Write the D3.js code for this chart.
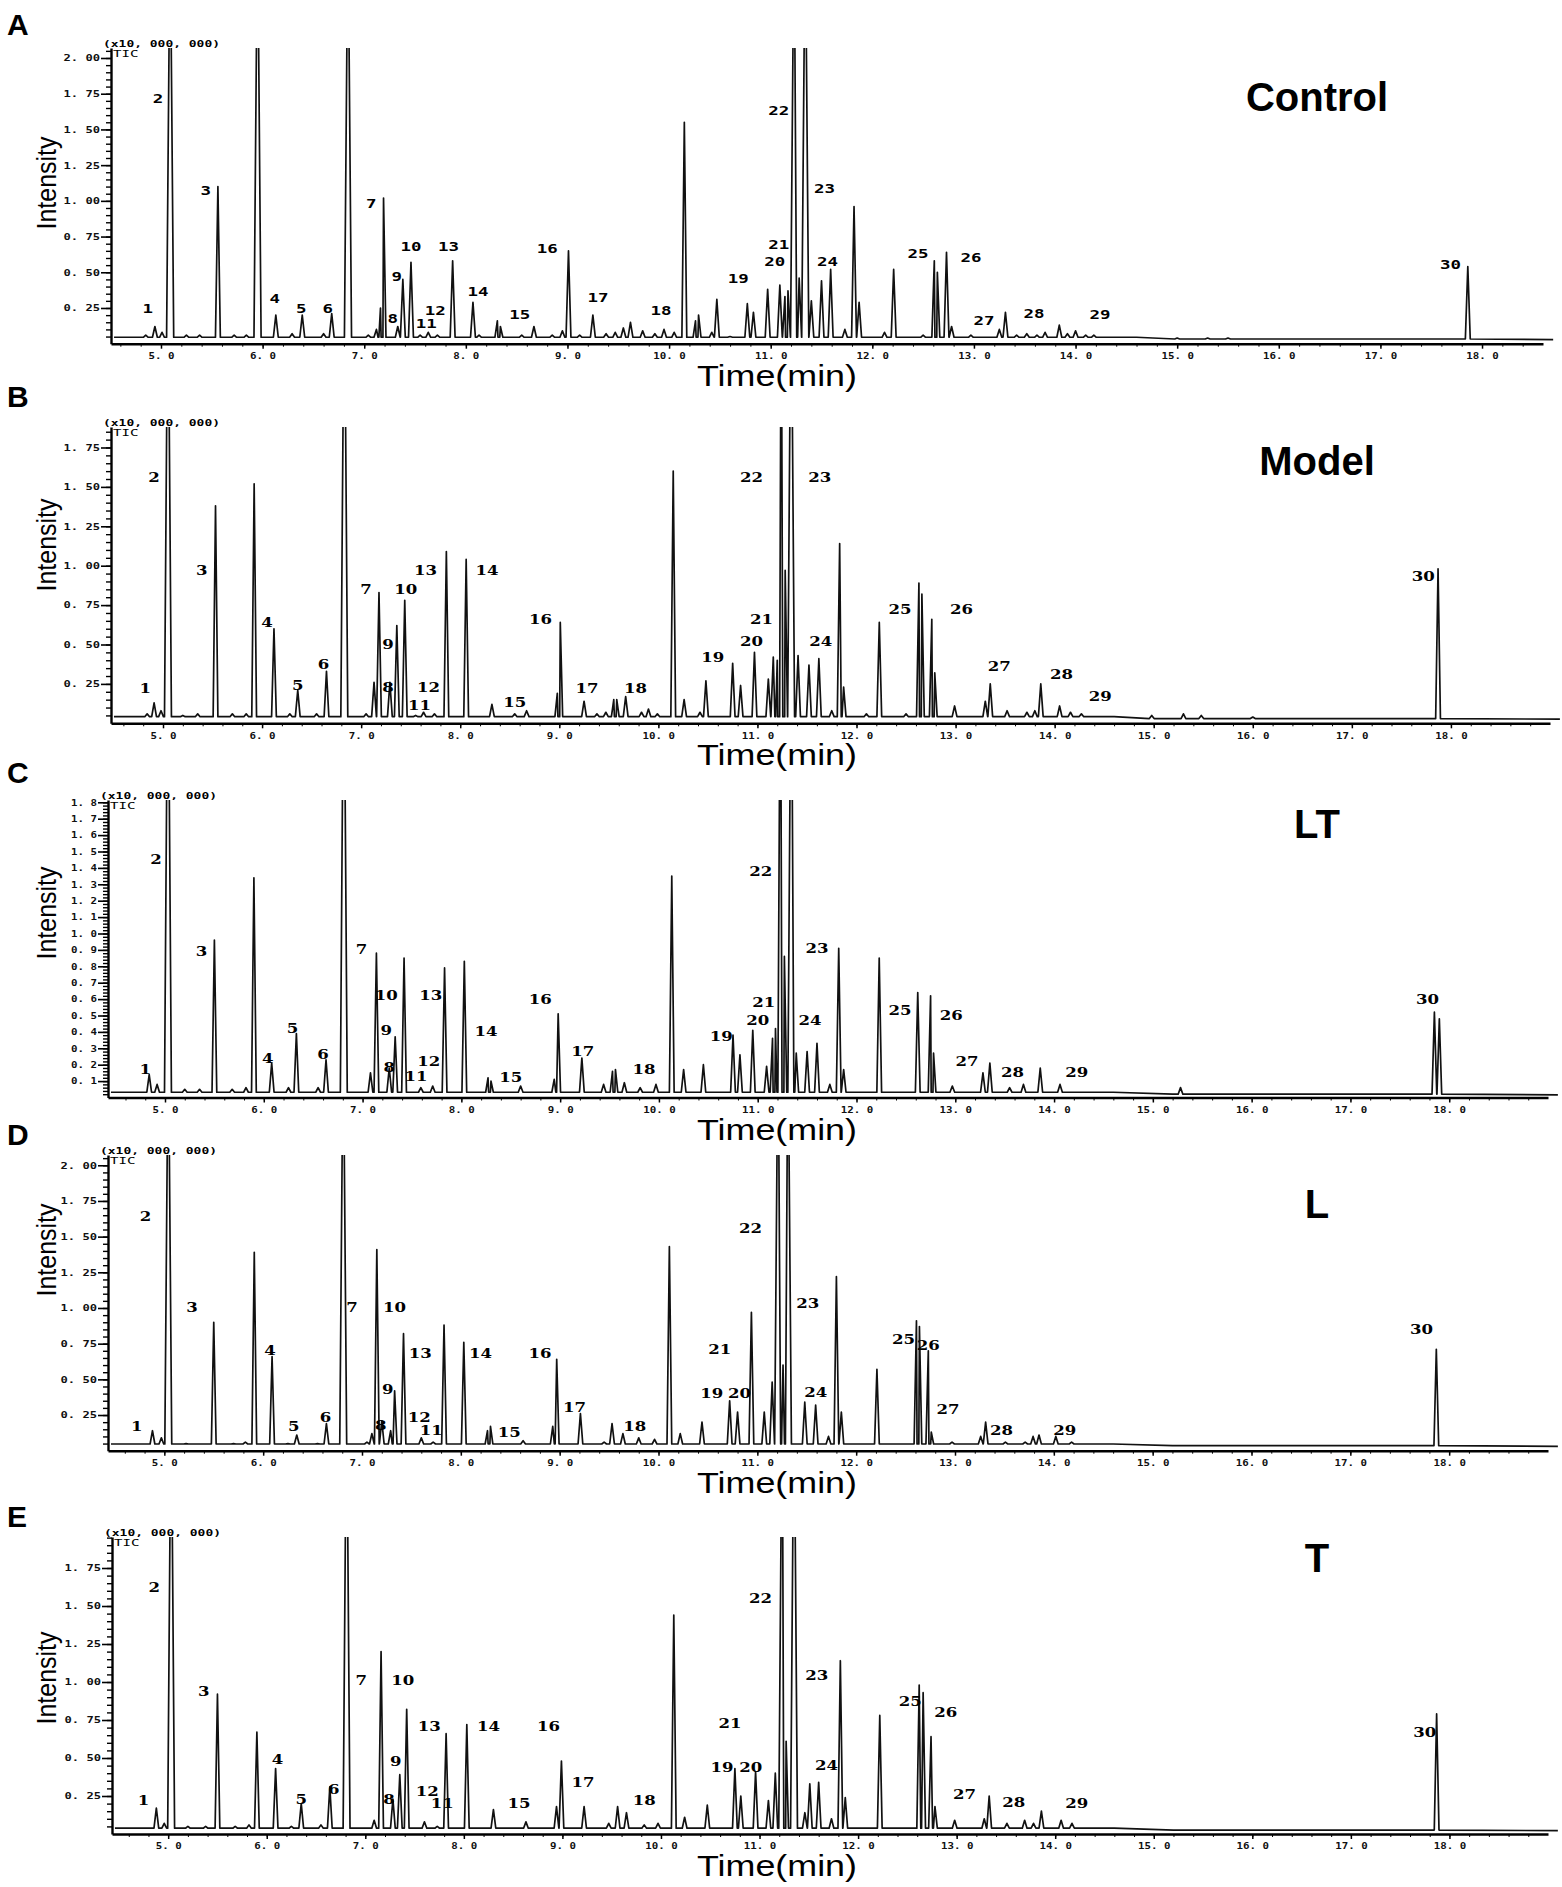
<!DOCTYPE html>
<html>
<head>
<meta charset="utf-8">
<script src="https://cdn.jsdelivr.net/npm/d3@7"></script>
<style>
  body { margin: 0; background: #fff; }
</style>
</head>
<body>
<div id="chart"></div>
<script>
// ---- data (time in min, intensity in x10,000,000) ----
// peaks above ~2.1 run off the top of the axis; they are stored as 3.0
const peakNumbers = [1,2,3,4,5,6,7,8,9,10,11,12,13,14,15,16,17,18,19,20,21,22,23,24,25,26,27,28,29,30];
const xTickValues = [5,6,7,8,9,10,11,12,13,14,15,16,17,18];
const yTicksQuarter = [0.25,0.5,0.75,1.0,1.25,1.5,1.75,2.0];
const yTicksTenth = [0.1,0.2,0.3,0.4,0.5,0.6,0.7,0.8,0.9,1.0,1.1,1.2,1.3,1.4,1.5,1.6,1.7,1.8];
const panelTitles = ["Control","Model","LT","L","T"];
const panelLetters = ["A","B","C","D","E"];

// A - Control
const controlTime = [4.85,4.94,5.01,5.09,5.25,5.38,5.56,5.72,5.84,5.95,6.13,6.29,6.39,6.60,6.68,6.84,7.04,7.12,7.16,7.19,
  7.33,7.38,7.46,7.55,7.63,7.72,7.87,8.07,8.13,8.31,8.34,8.55,8.67,8.85,8.95,9.01,9.12,9.25,9.38,9.47,9.55,9.62,9.74,9.86,
  9.95,10.05,10.15,10.26,10.29,10.42,10.47,10.60,10.77,10.83,10.97,11.09,11.14,11.17,11.23,11.28,11.34,11.40,11.50,11.59,
  11.73,11.82,11.87,12.12,12.21,12.50,12.61,12.64,12.73,12.78,12.97,13.25,13.31,13.42,13.52,13.62,13.70,13.84,13.92,14.00,
  14.10,14.18,15.00,15.30,15.50,17.86];
const controlHeight = [0.06,0.12,0.08,3.0,0.06,0.06,1.10,0.06,0.06,3.0,0.20,0.07,0.20,0.07,0.21,3.0,0.06,0.10,0.25,1.02,
  0.12,0.45,0.57,0.06,0.08,0.06,0.58,0.29,0.06,0.16,0.12,0.06,0.12,0.06,0.09,0.65,0.06,0.20,0.07,0.08,0.11,0.15,0.09,0.07,
  0.10,0.08,1.55,0.16,0.20,0.08,0.31,0.05,0.28,0.22,0.38,0.41,0.33,0.37,3.0,0.46,3.0,0.30,0.44,0.52,
  0.10,0.96,0.29,0.08,0.52,0.06,0.58,0.50,0.64,0.12,0.06,0.10,0.22,0.06,0.07,0.06,0.08,0.13,0.07,0.09,
  0.06,0.06,0.04,0.04,0.04,0.54];
const controlLabelTime = [4.87,4.97,5.44,6.12,6.38,6.64,7.07,7.28,7.32,7.46,7.61,7.70,7.83,8.12,8.53,8.80,9.30,9.92,10.68,11.04,
  11.08,11.08,11.53,11.56,12.45,12.97,13.10,13.59,14.24,17.69];
const controlLabelValue = [0.24,1.71,1.07,0.31,0.24,0.24,0.98,0.17,0.47,0.68,0.14,0.23,0.68,0.36,0.20,0.66,0.32,0.23,0.45,0.57,
  0.69,1.63,1.08,0.57,0.63,0.60,0.16,0.21,0.20,0.55];

// B - Model
const modelTime = [4.84,4.91,4.98,5.05,5.20,5.35,5.53,5.70,5.84,5.92,6.12,6.28,6.36,6.55,6.65,6.83,7.05,7.13,7.18,7.29,
  7.36,7.44,7.55,7.63,7.74,7.86,8.06,8.32,8.55,8.67,8.98,9.01,9.25,9.38,9.47,9.55,9.58,9.67,9.83,9.90,9.99,10.15,10.26,
  10.42,10.48,10.75,10.83,10.97,11.11,11.16,11.20,11.24,11.28,11.34,11.41,11.52,11.62,11.75,11.83,11.87,12.10,12.23,12.50,
  12.63,12.66,12.76,12.79,12.99,13.30,13.35,13.52,13.72,13.80,13.86,14.05,14.16,14.27,14.98,15.30,15.48,16.00,17.87];
const modelHeight = [0.06,0.13,0.08,3.0,0.05,0.06,1.38,0.06,0.06,1.52,0.60,0.06,0.21,0.06,0.33,3.0,0.06,0.26,0.83,0.26,
  0.62,0.78,0.05,0.07,0.06,1.09,1.04,0.12,0.06,0.08,0.19,0.64,0.14,0.06,0.07,0.15,0.15,0.17,0.07,0.09,0.06,1.60,0.15,
  0.07,0.27,0.38,0.24,0.45,0.28,0.42,0.40,3.0,0.97,3.0,0.43,0.37,0.41,0.08,1.14,0.23,0.06,0.64,0.06,
  0.89,0.82,0.66,0.32,0.11,0.14,0.25,0.08,0.07,0.08,0.25,0.11,0.07,0.06,0.05,0.06,0.05,0.04,0.98];
const modelLabelTime = [4.82,4.91,5.39,6.05,6.36,6.62,7.05,7.27,7.27,7.45,7.59,7.68,7.65,8.27,8.55,8.81,9.28,9.77,10.55,10.94,
  11.04,10.94,11.63,11.64,12.44,13.06,13.44,14.07,14.46,17.72];
const modelLabelValue = [0.22,1.56,0.97,0.64,0.24,0.37,0.85,0.23,0.50,0.85,0.11,0.23,0.97,0.97,0.13,0.66,0.22,0.22,0.42,0.52,
  0.66,1.56,1.56,0.52,0.72,0.72,0.36,0.31,0.17,0.93];

// C - LT
const ltTime = [4.84,4.92,5.03,5.20,5.35,5.50,5.68,5.82,5.90,6.08,6.25,6.33,6.55,6.63,6.81,7.08,7.14,7.27,7.33,7.42,
  7.59,7.71,7.83,8.03,8.27,8.30,8.60,8.94,8.98,9.22,9.44,9.53,9.56,9.65,9.81,9.97,10.13,10.25,10.45,10.75,10.82,10.95,
  11.09,11.15,11.18,11.23,11.27,11.34,11.39,11.50,11.60,11.73,11.82,11.87,12.23,12.62,12.75,12.78,12.97,13.28,13.35,13.55,
  13.69,13.86,14.06,15.28,17.85,17.90];
const ltHeight = [0.14,0.08,3.0,0.05,0.05,0.96,0.05,0.06,1.34,0.21,0.06,0.39,0.06,0.23,3.0,0.15,0.88,0.18,0.37,0.85,
  0.06,0.07,0.79,0.83,0.12,0.10,0.07,0.11,0.51,0.24,0.08,0.16,0.17,0.09,0.06,0.08,1.35,0.17,0.20,0.38,0.26,0.41,
  0.19,0.36,0.42,3.0,0.86,3.0,0.27,0.28,0.33,0.08,0.91,0.17,0.85,0.64,0.62,0.27,0.07,0.15,0.21,0.06,
  0.08,0.18,0.08,0.06,0.52,0.48];
const ltLabelTime = [4.80,4.91,5.37,6.04,6.29,6.60,6.99,7.27,7.24,7.24,7.54,7.67,7.69,8.25,8.50,8.80,9.23,9.85,10.63,11.00,
  11.06,11.03,11.60,11.53,12.44,12.96,13.12,13.58,14.23,17.78];
const ltLabelValue = [0.17,1.45,0.89,0.24,0.42,0.26,0.90,0.18,0.41,0.62,0.13,0.22,0.62,0.40,0.12,0.60,0.28,0.17,0.37,0.47,
  0.58,1.38,0.91,0.47,0.53,0.50,0.22,0.15,0.15,0.60];

// D - L
const lTime = [4.88,4.97,5.04,5.22,5.50,5.70,5.82,5.91,6.09,6.25,6.34,6.55,6.64,6.81,7.05,7.10,7.15,7.20,7.29,7.33,
  7.42,7.60,7.72,7.83,8.03,8.27,8.30,8.63,8.93,8.97,9.21,9.45,9.53,9.64,9.80,9.96,10.11,10.22,10.44,10.72,10.80,10.94,
  11.07,11.15,11.21,11.26,11.31,11.48,11.59,11.72,11.80,11.85,12.21,12.61,12.64,12.73,12.76,12.97,13.26,13.31,13.51,13.71,
  13.79,13.85,14.02,14.18,17.87];
const lHeight = [0.14,0.09,3.0,0.05,0.90,0.05,0.06,1.39,0.66,0.05,0.11,0.05,0.19,3.0,0.06,0.12,1.41,0.21,0.14,0.42,
  0.82,0.09,0.06,0.88,0.76,0.14,0.17,0.07,0.17,0.64,0.26,0.06,0.19,0.12,0.09,0.08,1.43,0.12,0.20,0.35,0.27,0.97,
  0.27,0.48,3.0,0.60,3.0,0.34,0.32,0.10,1.22,0.27,0.57,0.91,0.87,0.70,0.13,0.06,0.10,0.20,0.06,0.06,
  0.10,0.11,0.10,0.06,0.71];
const lLabelTime = [4.72,4.81,5.28,6.07,6.31,6.63,6.90,7.19,7.26,7.33,7.70,7.58,7.59,8.20,8.49,8.80,9.15,9.76,10.54,10.82,
  10.62,10.93,11.51,11.59,12.48,12.73,12.93,13.47,14.11,17.72];
const lLabelValue = [0.17,1.64,1.00,0.70,0.17,0.23,1.00,0.18,0.43,1.00,0.14,0.23,0.68,0.68,0.13,0.68,0.30,0.17,0.40,0.40,
  0.71,1.56,1.03,0.41,0.78,0.74,0.29,0.14,0.14,0.85];

// E - T
const tTime = [4.88,4.96,5.03,5.20,5.38,5.50,5.68,5.82,5.90,6.09,6.25,6.35,6.55,6.64,6.81,7.09,7.16,7.28,7.35,7.42,
  7.60,7.73,7.82,8.03,8.30,8.63,8.94,8.99,9.22,9.47,9.56,9.65,9.83,9.97,10.13,10.24,10.47,10.75,10.81,10.96,11.09,11.16,
  11.23,11.27,11.35,11.46,11.51,11.60,11.73,11.82,11.87,12.22,12.62,12.66,12.74,12.78,12.98,13.28,13.33,13.51,13.69,13.78,
  13.86,14.06,14.17,17.87];
const tHeight = [0.17,0.07,3.0,0.05,0.05,0.92,0.05,0.06,0.67,0.43,0.05,0.20,0.06,0.31,3.0,0.09,1.20,0.23,0.39,0.82,
  0.08,0.05,0.66,0.72,0.16,0.08,0.18,0.48,0.18,0.07,0.18,0.14,0.06,0.07,1.44,0.11,0.19,0.43,0.25,0.41,0.22,0.40,
  3.0,0.61,3.0,0.14,0.33,0.34,0.10,1.14,0.24,0.78,0.98,0.93,0.64,0.18,0.09,0.10,0.25,0.07,0.09,0.07,
  0.15,0.09,0.07,0.79];
const tLabelTime = [4.75,4.86,5.36,6.11,6.35,6.68,6.96,7.24,7.31,7.38,7.78,7.63,7.65,8.25,8.56,8.86,9.21,9.83,10.62,10.91,
  10.70,11.01,11.58,11.68,12.53,12.89,13.08,13.58,14.22,17.75];
const tLabelValue = [0.22,1.62,0.94,0.49,0.23,0.29,1.01,0.23,0.48,1.01,0.20,0.28,0.71,0.71,0.20,0.71,0.34,0.22,0.44,0.44,
  0.73,1.55,1.04,0.45,0.87,0.80,0.26,0.21,0.20,0.67];

// ---- layout of the five stacked panels (pixels) ----
const layout = [
  { time: controlTime, height: controlHeight, lt: controlLabelTime, lv: controlLabelValue,
    xDom: [4.508, 18.6], xPx: [111, 1543], yDom: [0, 2.07], yPx: [343.7, 48], yTicks: yTicksQuarter, yMinor: 0.05,
    base: 0.045, letterY: 35, titleY: 111, intensityY: 183, numFont: "mono" },
  { time: modelTime, height: modelHeight, lt: modelLabelTime, lv: modelLabelValue,
    xDom: [4.475, 19.0], xPx: [111, 1550], yDom: [0, 1.88], yPx: [723.3, 427], yTicks: yTicksQuarter, yMinor: 0.05,
    base: 0.042, letterY: 407, titleY: 475, intensityY: 545, numFont: "serif" },
  { time: ltTime, height: ltHeight, lt: ltLabelTime, lv: ltLabelValue,
    xDom: [4.423, 19.0], xPx: [108, 1548], yDom: [0, 1.814], yPx: [1097.5, 800], yTicks: yTicksTenth, yMinor: 0.02,
    base: 0.032, letterY: 783, titleY: 838, intensityY: 913, numFont: "serif" },
  { time: lTime, height: lHeight, lt: lLabelTime, lv: lLabelValue,
    xDom: [4.43, 19.0], xPx: [108, 1548], yDom: [0, 2.072], yPx: [1450.7, 1155], yTicks: yTicksQuarter, yMinor: 0.05,
    base: 0.047, letterY: 1145, titleY: 1218, intensityY: 1250, numFont: "serif" },
  { time: tTime, height: tHeight, lt: tLabelTime, lv: tLabelValue,
    xDom: [4.43, 19.0], xPx: [112, 1548], yDom: [0, 1.954], yPx: [1834, 1537], yTicks: yTicksQuarter, yMinor: 0.05,
    base: 0.038, letterY: 1527, titleY: 1572, intensityY: 1678, numFont: "serif" }
];

const W = 1562, H = 1887;
const svg = d3.select("#chart").append("svg")
    .attr("width", W).attr("height", H)
    .attr("viewBox", [0, 0, W, H])
    .style("font-family", "'Liberation Sans', Arial, sans-serif");

const monoFont = "'DejaVu Sans Mono', 'Liberation Mono', monospace";
const narrowFont = "'Liberation Sans Narrow', 'Arial Narrow', 'Liberation Sans', Arial, sans-serif";

function squash(sel, perChar) {
  sel.each(function () {
    const t = d3.select(this);
    const s = t.text();
    t.attr("textLength", s.length * perChar).attr("lengthAdjust", "spacingAndGlyphs");
  });
}

layout.forEach((p, i) => {
  const x = d3.scaleLinear().domain(p.xDom).range(p.xPx);
  const y = d3.scaleLinear().domain(p.yDom).range(p.yPx);
  const g = svg.append("g");

  // trace: each peak drawn as foot - apex - foot, plus a few baseline anchors
  const pts = [];
  p.time.forEach((t, k) => {
    const h = p.height[k];
    const hw = h > 2.5 ? 0.035 : 0.024;
    const b = t > 14.6 ? p.base - 0.012 : p.base;
    pts.push([t - hw, b], [t, h], [t + hw, b]);
  });
  pts.push([p.xDom[0] + 0.03, p.base], [14.6, p.base], [15.2, p.base - 0.012], [p.xDom[1] + 0.1, p.base - 0.016]);
  pts.sort((a, b) => a[0] - b[0]);

  const clipId = "clip" + i;
  svg.append("clipPath").attr("id", clipId).append("rect")
      .attr("x", p.xPx[0]).attr("y", p.yPx[1])
      .attr("width", W - p.xPx[0]).attr("height", p.yPx[0] - p.yPx[1]);

  g.append("path")
      .datum(pts)
      .attr("clip-path", `url(#${clipId})`)
      .attr("fill", "none")
      .attr("stroke", "#111")
      .attr("stroke-width", 1.7)
      .attr("stroke-linejoin", "round")
      .attr("d", d3.line().x(d => x(d[0])).y(d => y(d[1])));

  // x axis
  const xMinor = d3.range(Math.ceil(p.xDom[0] * 5) / 5, p.xDom[1], 0.2);
  g.append("g").attr("transform", `translate(0,${p.yPx[0]})`)
      .call(d3.axisBottom(x).tickValues(xMinor).tickSize(3).tickSizeOuter(0).tickFormat(""))
      .call(a => a.select(".domain").attr("stroke-width", 2.6));
  const xa = g.append("g").attr("transform", `translate(0,${p.yPx[0]})`)
      .call(d3.axisBottom(x).tickValues(xTickValues).tickSize(5).tickSizeOuter(0).tickPadding(4)
        .tickFormat(d => d.toFixed(1).replace(".", ". ")));
  xa.select(".domain").remove();
  xa.selectAll("line").attr("stroke-width", 1.5);
  xa.selectAll("text").attr("font-family", monoFont).attr("font-weight", "bold")
      .attr("font-size", 9).attr("fill", "#111").call(squash, 6.5);

  // y axis
  const yMinor = d3.range(p.yMinor, p.yDom[1], p.yMinor);
  g.append("g").attr("transform", `translate(${p.xPx[0]},0)`)
      .call(d3.axisLeft(y).tickValues(yMinor).tickSize(5).tickSizeOuter(0).tickFormat(""))
      .call(a => a.select(".domain").attr("stroke-width", 2.4))
      .call(a => a.selectAll("line").attr("stroke-width", 1.4));
  const digits = p.yMinor < 0.03 ? 1 : 2;
  const ya = g.append("g").attr("transform", `translate(${p.xPx[0]},0)`)
      .call(d3.axisLeft(y).tickValues(p.yTicks.filter(v => v <= p.yDom[1])).tickSize(10).tickSizeOuter(0).tickPadding(1)
        .tickFormat(d => d.toFixed(digits).replace(".", ". ")));
  ya.select(".domain").remove();
  ya.selectAll("line").attr("stroke-width", 1.6);
  ya.selectAll("text").attr("font-family", monoFont).attr("font-weight", "bold")
      .attr("font-size", 9).attr("fill", "#111").call(squash, digits === 1 ? 6.5 : 7.3);

  // scale factor and trace name
  g.append("text").attr("x", p.xPx[0] - 8).attr("y", p.yPx[1] - 1)
      .attr("font-family", monoFont).attr("font-weight", "bold").attr("font-size", 9)
      .text("(x10, 000, 000)").call(squash, 7.8);
  g.append("text").attr("x", p.xPx[0] + 2).attr("y", p.yPx[1] + 9)
      .attr("font-family", monoFont).attr("font-size", 8.5)
      .text("TIC").call(squash, 8.5);

  // axis titles
  g.append("text")
      .attr("transform", `translate(47,${p.intensityY}) rotate(-90)`)
      .attr("text-anchor", "middle").attr("dominant-baseline", "central")
      .attr("font-family", narrowFont).attr("font-size", 27)
      .attr("textLength", 93).attr("lengthAdjust", "spacingAndGlyphs")
      .text("Intensity");
  g.append("text")
      .attr("x", 777).attr("y", p.yPx[0] + 42)
      .attr("text-anchor", "middle")
      .attr("font-family", narrowFont).attr("font-size", 29)
      .attr("textLength", 160).attr("lengthAdjust", "spacingAndGlyphs")
      .text("Time(min)");

  // panel letter and group name
  g.append("text").attr("x", 7).attr("y", p.letterY)
      .attr("font-weight", "bold").attr("font-size", 30).text(panelLetters[i]);
  g.append("text").attr("x", 1317).attr("y", p.titleY).attr("text-anchor", "middle")
      .attr("font-weight", "bold").attr("font-size", 40).text(panelTitles[i]);

  // peak numbers
  g.selectAll("text.num").data(peakNumbers).join("text")
      .attr("class", "num")
      .attr("x", (d, k) => x(p.lt[k])).attr("y", (d, k) => y(p.lv[k]))
      .attr("text-anchor", "middle").attr("dominant-baseline", "central")
      .attr("font-family", p.numFont === "mono" ? monoFont : "'DejaVu Serif', 'Liberation Serif', serif")
      .attr("font-weight", "bold")
      .attr("font-size", p.numFont === "mono" ? 12 : 13)
      .text(d => d)
      .call(squash, p.numFont === "mono" ? 10.5 : 11.5);
});
</script>
</body>
</html>
